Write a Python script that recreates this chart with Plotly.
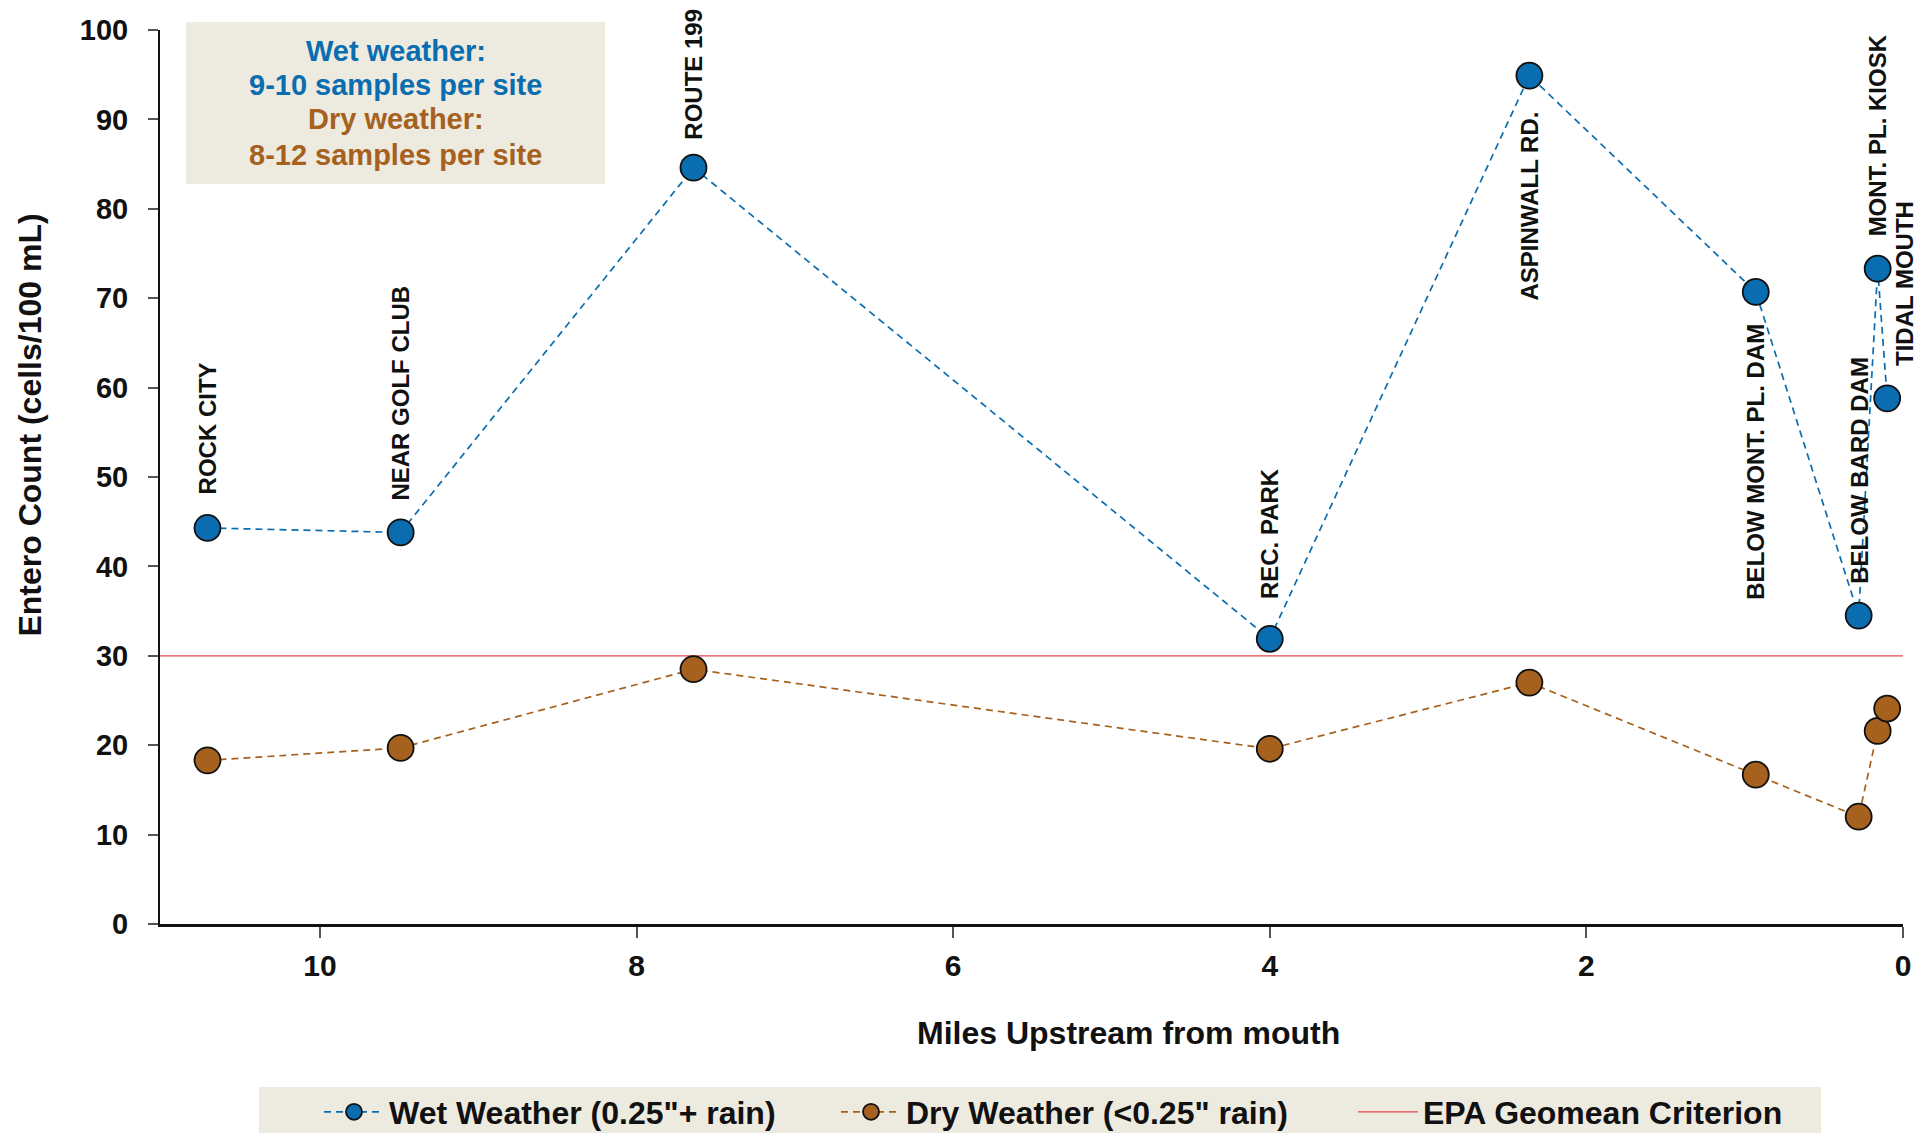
import plotly.graph_objects as go

# ---------------- data ----------------
sites = ["ROCK CITY", "NEAR GOLF CLUB", "ROUTE 199", "REC. PARK", "ASPINWALL RD.",
         "BELOW MONT. PL. DAM", "BELOW BARD DAM", "MONT. PL. KIOSK", "TIDAL MOUTH"]
miles = [10.71, 9.49, 7.64, 4.00, 2.36, 0.93, 0.28, 0.16, 0.10]
wet = [44.3, 43.8, 84.6, 31.9, 94.9, 70.7, 34.5, 73.3, 58.8]
dry = [18.3, 19.7, 28.5, 19.6, 27.0, 16.7, 12.0, 21.6, 24.1]
epa_criterion = 30
x_ticks = [10, 8, 6, 4, 2, 0]
y_ticks = [0, 10, 20, 30, 40, 50, 60, 70, 80, 90, 100]
box_lines = ["Wet weather:", "9-10 samples per site", "Dry weather:", "8-12 samples per site"]

# ---------------- style ----------------
FONT = "Liberation Sans, Arial, Helvetica, sans-serif"
BLUE = "#0A6DAF"
BROWN = "#A5611D"
RED = "#E2474C"
BEIGE = "#EDEAE0"
X_RANGE = [11.01, 0]
Y_RANGE = [0, 100]

# pixel geometry of the plot area
PL, PR, PT, PB = 160, 1903, 30, 924
PW, PH = PR - PL, PB - PT


def px(x):
    return (x - PL) / PW


def py(y):
    return (PB - y) / PH


# label placement: (side, xshift px, gap px)
label_place = [("above", 0, 32), ("above", 0, 30), ("above", 0, 26), ("above", 0, 38),
               ("below", 0, 34), ("below", 0, 30), ("above", 0, 30), ("above", 0, 30),
               ("above", 18, 30)]
box_colors = [BLUE, BLUE, BROWN, BROWN]
box_line_y = [50.5, 85, 119.5, 155]

fig = go.Figure()

fig.add_trace(go.Scatter(
    x=X_RANGE, y=[epa_criterion, epa_criterion], mode="lines",
    line=dict(color=RED, width=1.3), name="EPA Geomean Criterion",
    legendrank=3, hoverinfo="skip"))

fig.add_trace(go.Scatter(
    x=miles, y=wet, mode="lines+markers", name='Wet Weather (0.25"+ rain)',
    line=dict(color=BLUE, width=1.7, dash="7px,5px"),
    marker=dict(color=BLUE, size=26, line=dict(color="#111111", width=1.8)),
    legendrank=1))

fig.add_trace(go.Scatter(
    x=miles, y=dry, mode="lines+markers", name='Dry Weather (<0.25" rain)',
    line=dict(color=BROWN, width=1.7, dash="7px,5px"),
    marker=dict(color=BROWN, size=26, line=dict(color="#111111", width=1.8)),
    legendrank=2))

annotations = []
for name, xv, yv, (side, xs, gap) in zip(sites, miles, wet, label_place):
    annotations.append(dict(
        x=xv, y=yv, xref="x", yref="y", text=name, showarrow=False,
        textangle=-90, xanchor="center",
        yanchor="bottom" if side == "above" else "top",
        yshift=gap if side == "above" else -gap, xshift=xs,
        font=dict(family=FONT, size=24, color="#111111", weight="bold")))

# info box and legend background
shapes = [
    dict(type="rect", xref="paper", yref="paper",
         x0=px(186), x1=px(605), y0=py(184), y1=py(22),
         fillcolor=BEIGE, line=dict(width=0), layer="below"),
    dict(type="rect", xref="paper", yref="paper",
         x0=px(259), x1=px(1821), y0=py(1133), y1=py(1087),
         fillcolor=BEIGE, line=dict(width=0), layer="below"),
]
for txt, col, yy in zip(box_lines, box_colors, box_line_y):
    annotations.append(dict(
        x=px(395.5), y=py(yy), xref="paper", yref="paper", text=txt,
        showarrow=False, xanchor="center", yanchor="middle",
        font=dict(family=FONT, size=29, color=col, weight="bold")))

# axis titles
annotations.append(dict(
    x=px(1128.5), y=py(1032.5), xref="paper", yref="paper",
    text="Miles Upstream from mouth", showarrow=False, xanchor="center", yanchor="middle",
    font=dict(family=FONT, size=32, color="#111111", weight="bold")))
annotations.append(dict(
    x=px(29.6), y=py(425), xref="paper", yref="paper",
    text="Entero Count (cells/100 mL)", showarrow=False, textangle=-90,
    xanchor="center", yanchor="middle",
    font=dict(family=FONT, size=32, color="#111111", weight="bold")))

fig.update_layout(
    width=1932, height=1133,
    margin=dict(l=PL, r=1932 - PR, t=PT, b=1133 - PB, pad=0, autoexpand=False),
    paper_bgcolor="white", plot_bgcolor="white",
    font=dict(family=FONT, size=30, color="#111111", weight="bold"),
    showlegend=True,
    legend=dict(orientation="h", x=px(319), xanchor="left",
                y=py(1112), yanchor="middle",
                bgcolor="rgba(0,0,0,0)", borderwidth=0, itemwidth=60, entrywidth=442,
                font=dict(family=FONT, size=32, color="#111111", weight="bold"),
                traceorder="normal"),
    annotations=annotations,
    shapes=shapes,
    xaxis=dict(range=X_RANGE, tickvals=x_ticks, ticks="outside", ticklen=11,
               tickwidth=1.5, tickcolor="#555555", showline=True, linecolor="#111111",
               linewidth=2.5, showgrid=False, zeroline=False,
               ticklabelstandoff=2,
               tickfont=dict(family=FONT, size=30, color="#111111", weight="bold")),
    xaxis2=dict(range=X_RANGE, overlaying="x", anchor="y", side="bottom",
                tick0=0, dtick=0.4, ticks="inside", ticklen=8, tickwidth=1.3,
                tickcolor="#555555", showticklabels=False, showline=False,
                showgrid=False, zeroline=False),
    yaxis=dict(range=Y_RANGE, tickvals=y_ticks, ticks="outside", ticklen=10,
               tickwidth=1.5, tickcolor="#555555", showline=True, linecolor="#111111",
               linewidth=2, showgrid=False, zeroline=False,
               ticklabelstandoff=14,
               tickfont=dict(family=FONT, size=29, color="#111111", weight="bold")),
)

fig.write_html("out.html", config={"displayModeBar": False},
               post_script="document.body.style.margin='0';document.body.style.overflow='hidden';")
